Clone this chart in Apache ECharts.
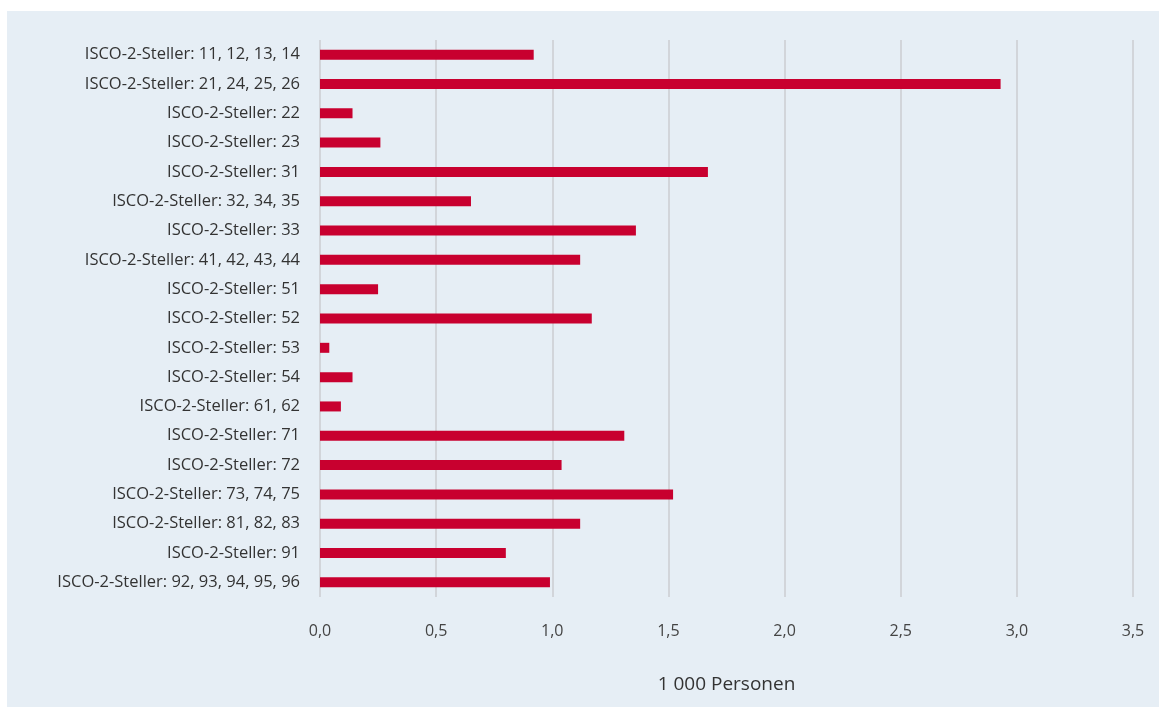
<!DOCTYPE html>
<html>
<head>
<meta charset="utf-8">
<script src="https://cdn.jsdelivr.net/npm/echarts@6/dist/echarts.min.js"></script>
<style>
  html, body { margin: 0; padding: 0; background: #ffffff; }
  #chart { width: 1159px; height: 707px; }
</style>
</head>
<body>
<div id="chart"></div>
<script>
// Occupation groups (ISCO 2-digit codes), top to bottom
const categories = [
  'ISCO-2-Steller: 11, 12, 13, 14',
  'ISCO-2-Steller: 21, 24, 25, 26',
  'ISCO-2-Steller: 22',
  'ISCO-2-Steller: 23',
  'ISCO-2-Steller: 31',
  'ISCO-2-Steller: 32, 34, 35',
  'ISCO-2-Steller: 33',
  'ISCO-2-Steller: 41, 42, 43, 44',
  'ISCO-2-Steller: 51',
  'ISCO-2-Steller: 52',
  'ISCO-2-Steller: 53',
  'ISCO-2-Steller: 54',
  'ISCO-2-Steller: 61, 62',
  'ISCO-2-Steller: 71',
  'ISCO-2-Steller: 72',
  'ISCO-2-Steller: 73, 74, 75',
  'ISCO-2-Steller: 81, 82, 83',
  'ISCO-2-Steller: 91',
  'ISCO-2-Steller: 92, 93, 94, 95, 96'
];

// Persons, in thousands
const persons = [
  0.92, 2.93, 0.14, 0.26, 1.67, 0.65, 1.36, 1.12, 0.25, 1.17,
  0.04, 0.14, 0.09, 1.31, 1.04, 1.52, 1.12, 0.80, 0.99
];

// Value axis tick labels (German decimal comma)
const tickValues = [0, 0.5, 1, 1.5, 2, 2.5, 3, 3.5];
const tickLabels = ['0,0', '0,5', '1,0', '1,5', '2,0', '2,5', '3,0', '3,5'];

const axisTitle = '1 000 Personen';

const FONT = '"Open Sans", Lato, sans-serif';

const chart = echarts.init(document.getElementById('chart'), null, { renderer: 'canvas' });

chart.setOption({
  backgroundColor: '#ffffff',
  animation: false,
  graphic: [{
    type: 'rect',
    left: 7,
    top: 11,
    z: -10,
    shape: { width: 1152, height: 696 },
    style: { fill: '#e6eef5' }
  }],
  grid: {
    left: 320,
    right: 26,
    top: 40,
    bottom: 110,
    containLabel: false
  },
  xAxis: {
    type: 'value',
    min: 0,
    max: 3.5,
    interval: 0.5,
    name: axisTitle,
    nameLocation: 'middle',
    nameGap: 78,
    nameTextStyle: { color: '#333333', fontSize: 19, fontFamily: FONT },
    axisLine: { show: false },
    axisTick: { show: false },
    axisLabel: {
      margin: 26,
      color: '#444444',
      fontSize: 16,
      fontFamily: FONT,
      formatter: function (v) {
        const i = tickValues.findIndex(t => Math.abs(t - v) < 1e-9);
        return i >= 0 ? tickLabels[i] : '';
      }
    },
    splitLine: { show: true, lineStyle: { color: '#d2d5da', width: 2 } }
  },
  yAxis: {
    type: 'category',
    data: categories,
    inverse: true,
    axisLine: { show: false },
    axisTick: { show: false },
    axisLabel: {
      margin: 20,
      color: '#333333',
      fontSize: 16.5,
      fontFamily: FONT
    },
    splitLine: { show: false }
  },
  series: [{
    type: 'bar',
    data: persons,
    barWidth: 10,
    itemStyle: { color: '#c8002f' }
  }]
});
</script>
</body>
</html>
